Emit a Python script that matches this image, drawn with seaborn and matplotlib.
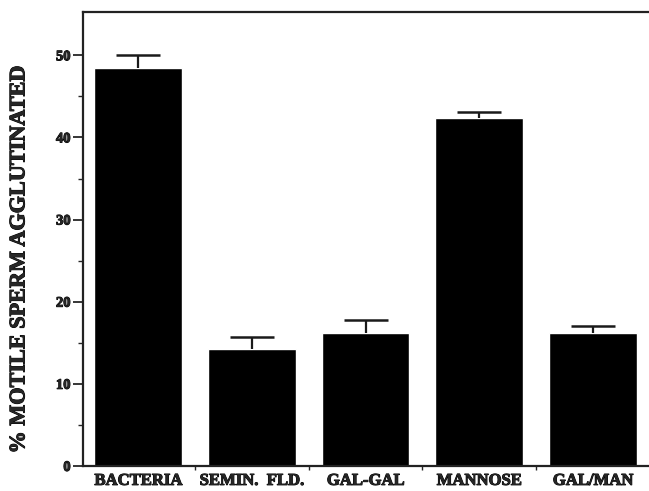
import matplotlib
matplotlib.use("Agg")
import matplotlib.pyplot as plt
import matplotlib.patheffects as pe
import seaborn as sns
import numpy as np
import pandas as pd
from matplotlib.ticker import FixedLocator

categories = ["BACTERIA", "SEMIN.  FLD.", "GAL-GAL", "MANNOSE", "GAL/MAN"]
agglutinated = [48.4, 14.2, 16.2, 42.4, 16.2]
sem = [1.6, 1.5, 1.6, 0.7, 0.8]
y_ticks = [0, 10, 20, 30, 40, 50]
y_minor = [5, 15, 25, 35, 45]

sns.set_theme(style="ticks")
plt.rcParams["font.family"] = ["Liberation Serif", "DejaVu Serif"]
plt.rcParams["font.weight"] = "bold"

heavy = [pe.withStroke(linewidth=0.7, foreground="black")]

df = pd.DataFrame({"group": categories, "value": agglutinated})

fig = plt.figure(figsize=(6.49, 4.91), dpi=100)
ax = fig.add_axes([0.128, 0.051, 0.8705, 0.925])

sns.barplot(data=df, x="group", y="value", color="black", saturation=1,
            width=0.77, ax=ax, errorbar=None)

# upper-only error bars; the lower cap is dropped
x = np.arange(len(categories))
_, caps, _ = ax.errorbar(x, agglutinated, yerr=[np.zeros(len(sem)), sem],
                         fmt="none", ecolor="#1a1a1a", elinewidth=1.6,
                         capsize=15.5, capthick=1.8)
caps[0].remove()

ax.set_xlim(-0.485, 4.485)
ax.set_ylim(0, 55.3)
ax.set_yticks(y_ticks)
ax.set_yticklabels([str(t) for t in y_ticks], fontsize=10.5, fontweight="bold")
ax.yaxis.set_minor_locator(FixedLocator(y_minor))
ax.xaxis.set_minor_locator(FixedLocator([0.5, 1.5, 2.5, 3.5]))
ax.tick_params(axis="y", which="major", length=7, width=1.3, pad=2)
ax.tick_params(axis="y", which="minor", length=3.5, width=1.0)
ax.tick_params(axis="x", which="major", length=0, pad=5)
ax.tick_params(axis="x", which="minor", length=3, width=1.0)
ax.set_xticks(x)
ax.set_xticklabels(categories, fontsize=12, fontweight="bold")

ax.set_xlabel("")
ax.set_ylabel("% MOTILE SPERM AGGLUTINATED", fontsize=16, fontweight="bold")
ax.yaxis.set_label_coords(-0.095, 0.455)

for t in ax.get_xticklabels() + ax.get_yticklabels() + [ax.yaxis.label]:
    t.set_path_effects(heavy)

for side in ["left", "top", "bottom"]:
    ax.spines[side].set_visible(True)
    ax.spines[side].set_linewidth(1.6)
    ax.spines[side].set_color("#222222")
ax.spines["right"].set_visible(False)

fig.savefig("out.png", dpi=100)
